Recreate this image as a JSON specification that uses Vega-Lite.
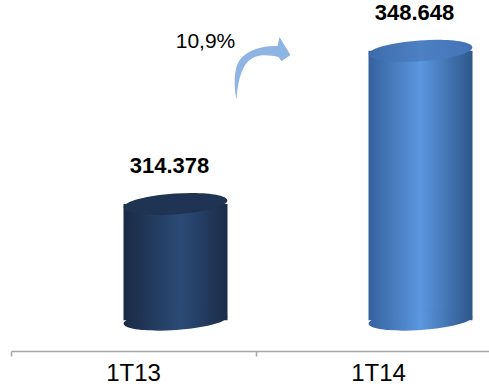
{
  "$schema": "https://vega.github.io/schema/vega-lite/v6.json",
  "width": 478,
  "height": 351,
  "autosize": "none",
  "padding": {"left": 11, "top": 0, "right": 0, "bottom": 37},
  "background": "white",
  "config": {"view": {"stroke": null}, "font": "Liberation Sans"},
  "data": {"values": [
    {"quarter": "1T13", "value": 314378, "label": "314.378"},
    {"quarter": "1T14", "value": 348648, "label": "348.648"}
  ]},
  "encoding": {
    "x": {"field": "quarter", "type": "nominal", "sort": null,
      "scale": {"range": [0, 490], "paddingInner": 0, "paddingOuter": 0},
      "axis": {"title": null, "bandPosition": 0, "domainColor": "#a6a6a6", "domainWidth": 1.5,
        "tickColor": "#a6a6a6", "tickWidth": 1.5, "tickSize": 5, "labelAngle": 0,
        "labelFontSize": 24, "labelColor": "#000000", "labelPadding": 5, "labelFont": "Liberation Sans", "grid": false}}
  },
  "layer": [
    {
      "mark": {"type": "bar", "width": 104, "xOffset": 42},
      "encoding": {
        "y": {"field": "value", "type": "quantitative", "scale": {"domain": [281500, 360000], "zero": false, "nice": false}, "axis": null},
        "y2": {"datum": 288400},
        "fill": {
          "condition": {"test": "datum.quarter === '1T13'", "value": {"gradient": "linear", "x1": 0, "x2": 1, "y1": 0, "y2": 0,
            "stops": [{"offset": 0, "color": "#1a2a44"}, {"offset": 0.55, "color": "#2b4b77"}, {"offset": 1, "color": "#1b2c48"}]}},
          "value": {"gradient": "linear", "x1": 0, "x2": 1, "y1": 0, "y2": 0,
            "stops": [{"offset": 0, "color": "#35629e"}, {"offset": 0.5, "color": "#5b97df"}, {"offset": 1, "color": "#2e568a"}]}
        }
      }
    },
    {
      "mark": {"type": "point", "filled": true, "opacity": 1, "strokeWidth": 0, "size": 10816, "xOffset": 42, "angle": -4,
        "shape": "M-1,0A1,0.19,0,1,0,1,0A1,0.19,0,1,0,-1,0Z"},
      "encoding": {
        "y": {"datum": 288400, "type": "quantitative"},
        "fill": {
          "condition": {"test": "datum.quarter === '1T13'", "value": {"gradient": "linear", "x1": 0, "x2": 1, "y1": 0, "y2": 0,
            "stops": [{"offset": 0, "color": "#1a2a44"}, {"offset": 0.55, "color": "#2b4b77"}, {"offset": 1, "color": "#1b2c48"}]}},
          "value": {"gradient": "linear", "x1": 0, "x2": 1, "y1": 0, "y2": 0,
            "stops": [{"offset": 0, "color": "#35629e"}, {"offset": 0.5, "color": "#5b97df"}, {"offset": 1, "color": "#2e568a"}]}
        }
      }
    },
    {
      "mark": {"type": "point", "filled": true, "opacity": 1, "strokeWidth": 0, "size": 10816, "xOffset": 42, "angle": -4,
        "shape": "M-1,0A1,0.2,0,1,0,1,0A1,0.2,0,1,0,-1,0Z"},
      "encoding": {
        "y": {"field": "value", "type": "quantitative"},
        "fill": {
          "condition": {"test": "datum.quarter === '1T13'", "value": "#1f3352"},
          "value": {"gradient": "linear", "x1": 0, "x2": 1, "y1": 0, "y2": 0,
            "stops": [{"offset": 0, "color": "#3e6cab"}, {"offset": 0.5, "color": "#4d80c4"}, {"offset": 1, "color": "#4373b5"}]}
        }
      }
    },
    {
      "mark": {"type": "text", "fontSize": 22, "fontWeight": "bold", "color": "#000000", "xOffset": 36, "dy": -38, "baseline": "middle", "align": "center", "font": "Liberation Sans"},
      "encoding": {
        "y": {"field": "value", "type": "quantitative"},
        "text": {"field": "label"}
      }
    },
    {
      "data": {"values": [{"quarter": "1T13", "growth": "10,9%"}]},
      "mark": {"type": "text", "fontSize": 21, "color": "#000000", "xOffset": 72, "baseline": "middle", "align": "center", "font": "Liberation Sans"},
      "encoding": {
        "y": {"datum": 350600, "type": "quantitative"},
        "text": {"field": "growth"}
      }
    },
    {
      "data": {"values": [{"quarter": "1T13", "growth": "10,9%"}]},
      "mark": {"type": "point", "filled": true, "opacity": 1, "strokeWidth": 0, "size": 4, "xOffset": 72, "color": "#8eb4e3",
        "shape": "M31,58C28,40 28,22 38,14C48,5 62,4 72,4L74,-5L85,13L76,19L73,15C62,12 50,12 43,19C35,27 32,42 31,58Z"},
      "encoding": {
        "y": {"datum": 350600, "type": "quantitative"}
      }
    }
  ]
}
